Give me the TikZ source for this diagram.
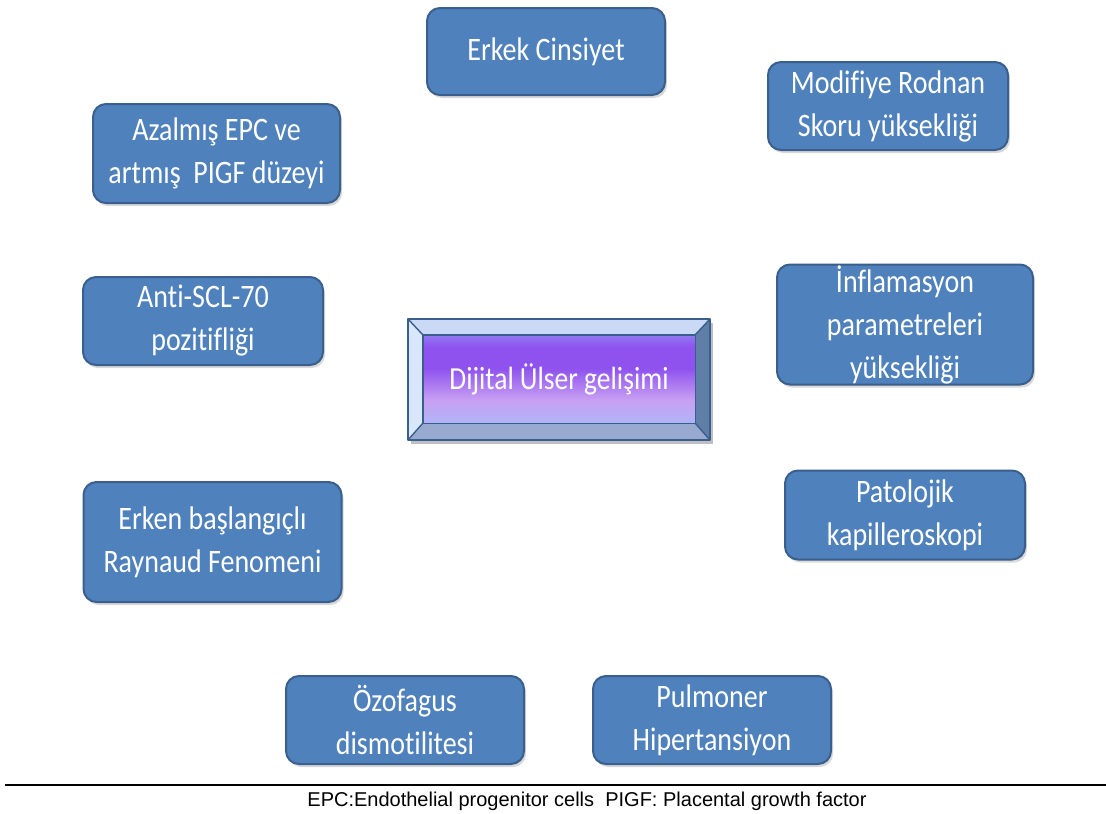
\documentclass[tikz,border=0pt]{standalone}
\usepackage{fontspec}
\usepackage{graphicx}
\setmainfont{Carlito}[Ligatures=NoCommon]
\newfontfamily\capfont{Liberation Sans}
\usetikzlibrary{shadows,calc}
\newcommand{\tl}[1]{\scalebox{1}[1.17]{#1}}
\definecolor{boxfill}{HTML}{4F81BD}
\definecolor{boxline}{HTML}{3A5F8C}
\definecolor{bvtop}{HTML}{C9D9F6}
\definecolor{bvleft}{HTML}{D9E7FB}
\definecolor{bvright}{HTML}{5F7FA9}
\definecolor{bvbottom}{HTML}{98AACF}
\definecolor{ulA}{HTML}{92CCF8}
\definecolor{ulB}{HTML}{C8A0F3}
\definecolor{ulC}{HTML}{8F52EF}
\definecolor{ulD}{HTML}{90C6F8}
\pgfdeclareverticalshading{ulcershade}{100bp}{color(0bp)=(ulA); color(10bp)=(ulA); color(38bp)=(ulB); color(56bp)=(ulC); color(68bp)=(ulC); color(88bp)=(ulD); color(100bp)=(ulD)}
\begin{document}
\begin{tikzpicture}[x=1pt,y=-1pt,
  factor/.style={draw=boxline, line width=2pt, fill=boxfill, rounded corners=13pt,
    text=white, font=\fontsize{28}{43}\selectfont, align=center, inner sep=0pt,
    drop shadow={opacity=0.3, shadow xshift=2pt, shadow yshift=-3pt}},
  bevelline/.style={draw=boxline, line width=1.4pt, line join=round},
]
\useasboundingbox (0,0) rectangle (1106,814);

\node[factor, minimum width=238pt, minimum height=87pt] (erkek) at (546,51.5) {\tl{Erkek Cinsiyet}};
\node[factor, minimum width=240pt, minimum height=88pt] (rodnan) at (888,106) {\tl{Modifiye Rodnan}\\\tl{Skoru yüksekliği}};
\node[factor, minimum width=247pt, minimum height=99pt] (epc) at (216.5,153.5) {\tl{Azalmış EPC ve}\\\tl{artmış\ \ PIGF düzeyi}};
\node[factor, minimum width=240pt, minimum height=88pt] (scl) at (203,321) {\tl{Anti-SCL-70}\\\tl{pozitifliği}};
\node[factor, minimum width=256pt, minimum height=120pt] (inf) at (905,324.5) {\tl{İnflamasyon}\\\tl{parametreleri}\\\tl{yüksekliği}};
\node[factor, minimum width=258pt, minimum height=120pt] (raynaud) at (212.5,542) {\tl{Erken başlangıçlı}\\\tl{Raynaud Fenomeni}};
\node[factor, minimum width=240pt, minimum height=89pt] (kap) at (905,515) {\tl{Patolojik}\\\tl{kapilleroskopi}};
\node[factor, minimum width=238pt, minimum height=88pt] (ozo) at (405,720) {\tl{Özofagus}\\\tl{dismotilitesi}};
\node[factor, minimum width=238pt, minimum height=88pt] (pah) at (712,720) {\tl{Pulmoner}\\\tl{Hipertansiyon}};

% central bevelled box
\node[minimum width=302pt, minimum height=121pt, inner sep=0pt] (ulcer) at (559,379.5) {};
\coordinate (oNW) at (ulcer.north west);
\coordinate (oNE) at (ulcer.north east);
\coordinate (oSE) at (ulcer.south east);
\coordinate (oSW) at (ulcer.south west);
\coordinate (iNW) at ($(oNW)+(15,16)$);
\coordinate (iNE) at ($(oNE)+(-15,16)$);
\coordinate (iSE) at ($(oSE)+(-15,-17)$);
\coordinate (iSW) at ($(oSW)+(15,-17)$);
\fill[black, opacity=0.25] ($(oNW)+(3,4)$) rectangle ($(oSE)+(3,4)$);
\fill[bvtop] (oNW) -- (oNE) -- (iNE) -- (iNW) -- cycle;
\fill[bvleft] (oNW) -- (iNW) -- (iSW) -- (oSW) -- cycle;
\fill[bvright] (oNE) -- (oSE) -- (iSE) -- (iNE) -- cycle;
\fill[bvbottom] (oSW) -- (iSW) -- (iSE) -- (oSE) -- cycle;
\shade[shading=ulcershade] (iNW) rectangle (iSE);
\draw[bevelline] (iNW) rectangle (iSE);
\draw[bevelline] (oNW) -- (iNW) (oNE) -- (iNE) (oSE) -- (iSE) (oSW) -- (iSW);
\draw[draw=boxline, line width=2.5pt, line join=round] (oNW) rectangle (oSE);
\node[text=white, font=\fontsize{27.5}{31}\selectfont, inner sep=0pt] (ulcertext) at (ulcer.center) {\tl{Dijital Ülser gelişimi}};

% footnote
\coordinate (ruleL) at (5,785);
\coordinate (ruleR) at (1106,785);
\draw[line width=1.8pt] (ruleL) -- (ruleR);
\node[font=\capfont\fontsize{20}{24}\selectfont, inner sep=0pt] (cap) at (587,801) {EPC:Endothelial progenitor cells\ \ PIGF: Placental growth factor};
\end{tikzpicture}
\end{document}
